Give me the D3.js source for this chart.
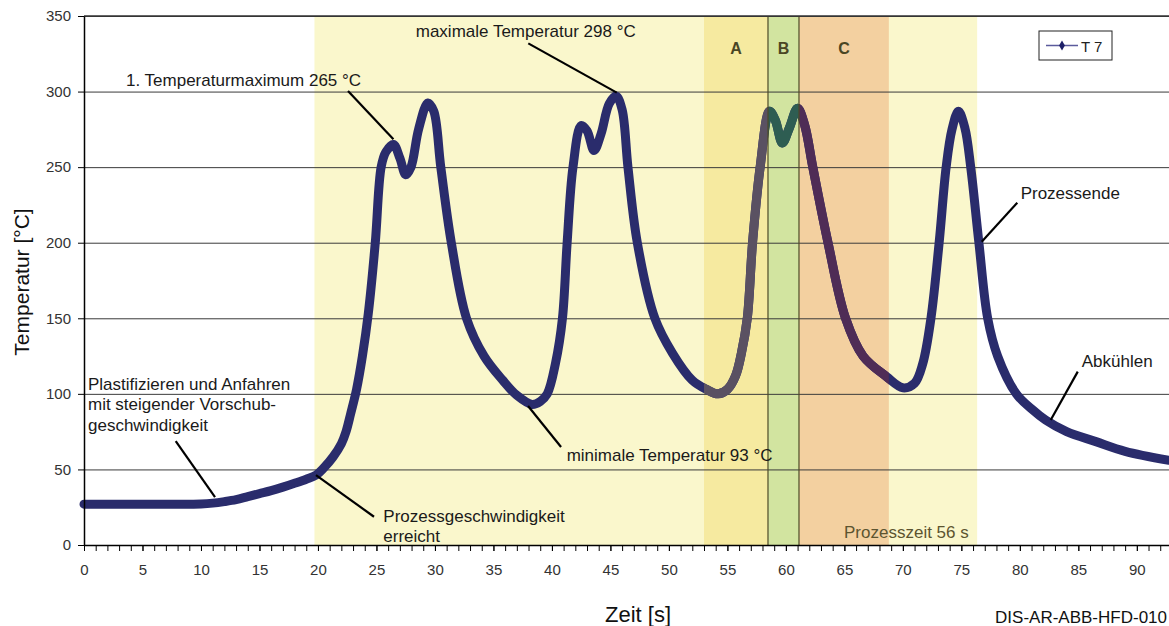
<!DOCTYPE html>
<html>
<head>
<meta charset="utf-8">
<script src="https://cdn.jsdelivr.net/npm/d3@7"></script>
<style>
  body { margin: 0; background: #fff; }
  svg { font-family: "Liberation Sans", Arial, sans-serif; }
  .axis text { font-size: 15px; fill: #333; }
  .axis path, .axis line { stroke: #000; }
</style>
</head>
<body>
<script>
// Temperatur T 7 over Zeit
const timeS = [0, 2, 4, 6, 8, 10, 11, 12, 13, 14, 15, 16, 17, 18, 19, 19.85, 20.5, 21.3, 22, 22.4, 22.8,
  23.3, 23.8, 24.3, 24.9, 25.4, 25.8, 26.45, 27.0, 27.5, 27.95, 28.6, 29.4, 29.9, 30.5, 31.4, 32.7,
  34.2, 35.8, 37.0, 38.3, 39.0, 39.6, 40.3, 40.9, 41.3, 41.8, 42.5, 43.0, 43.6, 44.2, 44.9, 45.5,
  46.0, 46.5, 47.3, 48.8, 50.3, 52.0, 53.2, 54.2, 55.0, 55.7, 56.2, 56.7, 57.15, 57.8, 58.6, 59.1,
  59.7, 60.3, 61.0, 61.6, 62.3, 63.6, 65.1, 66.6, 68.6, 70.0, 71.0, 71.7, 72.4, 73.1, 73.7, 74.2,
  74.75, 75.3, 75.8, 76.5, 77.25, 78.1, 79.7, 81.0, 82.2, 84.0, 86.5, 89.0, 92.75];
const tempC = [27, 27, 27, 27, 27, 27.2, 27.7, 28.7, 30, 32, 34, 36, 38.3, 40.8, 43.5, 46.3, 51, 58.4, 67, 75, 87,
  103, 125, 153, 200, 250, 260, 265, 256, 245, 250, 275, 292.5, 287, 250, 200, 150,
  125, 109, 99, 93, 95, 100, 120, 150, 200, 250, 277.5, 274, 261, 272, 292, 297,
  288, 250, 200, 150, 127, 109, 103, 100, 103, 112, 127, 150, 200, 250, 287, 281,
  266, 276, 289, 278, 250, 200, 150, 125, 111.4, 104, 107, 120, 150, 200, 250, 275,
  287, 276, 250, 200, 150, 125, 100, 90, 82.7, 75, 68.4, 62, 56];

const yTicks = [0, 50, 100, 150, 200, 250, 300, 350];
const xTickLabels = [0, 5, 10, 15, 20, 25, 30, 35, 40, 45, 50, 55, 60, 65, 70, 75, 80, 85, 90];

// Phasen (s)
const bandNames = ["", "A", "B", "C"];
const bandStart = [19.7, 53.0, 58.47, 61.12];
const bandEnd = [76.35, 58.47, 61.12, 68.8];
const bandFill = ["#faf7cc", "#f6eaa0", "#d2e4a0", "#f3d0a0"];
const bandCurve = [null, "#5a5162", "#2e5d52", "#4f2c56"];

const W = 1169, H = 626;
const svg = d3.select("body").append("svg").attr("width", W).attr("height", H);

const x = d3.scaleLinear([0, 92.75], [84, 1169]);
const y = d3.scaleLinear([0, 350], [545, 16]);

// bands
svg.append("g").selectAll("rect").data(bandNames).join("rect")
  .attr("x", (d, i) => x(bandStart[i]))
  .attr("width", (d, i) => x(bandEnd[i]) - x(bandStart[i]))
  .attr("y", y(350)).attr("height", y(0) - y(350))
  .attr("fill", (d, i) => bandFill[i]);

// grid
svg.append("g").selectAll("line").data(yTicks.filter(d => d > 0)).join("line")
  .attr("x1", x(0)).attr("x2", W)
  .attr("y1", d => y(d) + 0.5).attr("y2", d => y(d) + 0.5)
  .attr("stroke", "#3a3a3a").attr("stroke-width", 1);

// curve
const pts = timeS.map((t, i) => [t, tempC[i]]);
const line = d3.line().x(d => x(d[0])).y(d => y(d[1])).curve(d3.curveCatmullRom.alpha(0.5));

svg.append("path").datum(pts)
  .attr("d", line).attr("fill", "none")
  .attr("stroke", "#2a2c6c").attr("stroke-width", 9)
  .attr("stroke-linejoin", "round").attr("stroke-linecap", "round");

// tinted curve inside A, B, C
const defs = svg.append("defs");
bandNames.forEach((name, i) => {
  if (!name) return;
  defs.append("clipPath").attr("id", "clip" + name).append("rect")
    .attr("x", x(bandStart[i])).attr("width", x(bandEnd[i]) - x(bandStart[i]))
    .attr("y", 0).attr("height", H);
  svg.append("path").datum(pts)
    .attr("clip-path", `url(#clip${name})`)
    .attr("d", line).attr("fill", "none")
    .attr("stroke", bandCurve[i]).attr("stroke-width", 9)
    .attr("stroke-linejoin", "round");
});

// B borders
svg.append("g").selectAll("line").data([bandStart[2], bandEnd[2]]).join("line")
  .attr("x1", d => x(d)).attr("x2", d => x(d))
  .attr("y1", y(350)).attr("y2", y(0))
  .attr("stroke", "#4d4a28").attr("stroke-width", 1.2);

// band letters
svg.append("g").selectAll("text").data(bandNames.slice(1)).join("text")
  .attr("x", (d, i) => x((bandStart[i + 1] + bandEnd[i + 1]) / 2))
  .attr("y", 54)
  .attr("text-anchor", "middle")
  .style("font-size", "16px").style("font-weight", "bold")
  .style("fill", "#4a4624")
  .text(d => d);

// top border
svg.append("line").attr("x1", x(0)).attr("x2", W)
  .attr("y1", y(350)).attr("y2", y(350))
  .attr("stroke", "#333").attr("stroke-width", 1.3);

// axes
const yAxis = d3.axisLeft(y).tickValues(yTicks).tickSize(6).tickPadding(7).tickSizeOuter(0);
svg.append("g").attr("class", "axis").attr("transform", `translate(${x(0)},0)`).call(yAxis)
  .select(".domain").attr("stroke-width", 1.5);

const xMinor = d3.range(0, 93, 1);
svg.append("g").attr("class", "axis").attr("transform", `translate(0,${y(0)})`)
  .call(d3.axisBottom(x).tickValues(xMinor).tickSize(6).tickFormat("").tickSizeOuter(0))
  .select(".domain").attr("stroke-width", 1.5);
svg.append("g").attr("class", "axis").attr("transform", `translate(0,${y(0)})`)
  .call(d3.axisBottom(x).tickValues(xTickLabels).tickSize(6).tickPadding(13).tickSizeOuter(0))
  .call(g => g.select(".domain").remove());

// axis titles
svg.append("text").attr("transform", "translate(29,282) rotate(-90)")
  .attr("text-anchor", "middle").style("font-size", "21px").style("fill", "#111")
  .text("Temperatur [°C]");
svg.append("text").attr("x", 638).attr("y", 622)
  .attr("text-anchor", "middle").style("font-size", "22px").style("fill", "#111")
  .text("Zeit [s]");
svg.append("text").attr("x", 1167).attr("y", 623)
  .attr("text-anchor", "end").style("font-size", "17px").style("fill", "#111")
  .text("DIS-AR-ABB-HFD-010");

// annotations: text position and leader in data units
const annotations = [
  { lines: ["1. Temperaturmaximum 265 °C"], at: [3.59, 303.7], from: [22.57, 300.4], to: [26.45, 268.5] },
  { lines: ["maximale Temperatur 298 °C"], at: [28.36, 336.1], from: [37.98, 331.9], to: [45.54, 299.3] },
  { lines: ["Plastifizieren und Anfahren", "mit steigender Vorschub-", "geschwindigkeit"], at: [0.34, 102.6], from: [7.84, 68.8], to: [11.2, 31.6] },
  { lines: ["Prozessgeschwindigkeit", "erreicht"], at: [25.59, 15.4], from: [19.83, 46.3], to: [24.79, 18.7] },
  { lines: ["minimale Temperatur 93 °C"], at: [41.26, 55.8], from: [37.96, 92], to: [40.78, 64.8] },
  { lines: ["Prozessende"], at: [80.07, 228.7], from: [79.78, 226.5], to: [76.74, 200.7] },
  { lines: ["Abkühlen"], at: [85.29, 118], from: [84.95, 114.7], to: [82.64, 82.7] }
];

const ann = svg.append("g");
annotations.forEach(a => {
  ann.append("line")
    .attr("x1", x(a.from[0])).attr("y1", y(a.from[1]))
    .attr("x2", x(a.to[0])).attr("y2", y(a.to[1]))
    .attr("stroke", "#000").attr("stroke-width", 2.2);
  const t = ann.append("text").attr("x", x(a.at[0])).attr("y", y(a.at[1]))
    .style("font-size", "17px").style("fill", "#1a1a1a");
  a.lines.forEach((l, i) => {
    t.append("tspan").attr("x", x(a.at[0])).attr("dy", i ? 20.5 : 0).text(l);
  });
});

svg.append("text").attr("x", x(64.97)).attr("y", y(4.6))
  .style("font-size", "17px").style("fill", "#5c5430")
  .text("Prozesszeit 56 s");

// legend
const leg = svg.append("g").attr("transform", "translate(1039,31)");
leg.append("rect").attr("width", 73).attr("height", 29)
  .attr("fill", "#fff").attr("stroke", "#222").attr("stroke-width", 1);
leg.append("line").attr("x1", 7).attr("x2", 39).attr("y1", 14.5).attr("y2", 14.5)
  .attr("stroke", "#5b5b9c").attr("stroke-width", 1.5);
leg.append("path").attr("d", d3.symbol(d3.symbolDiamond, 30)())
  .attr("transform", "translate(23,14.5)").attr("fill", "#1e2068");
leg.append("text").attr("x", 42).attr("y", 20.5)
  .style("font-size", "15px").style("fill", "#222").text("T 7");
</script>
</body>
</html>
